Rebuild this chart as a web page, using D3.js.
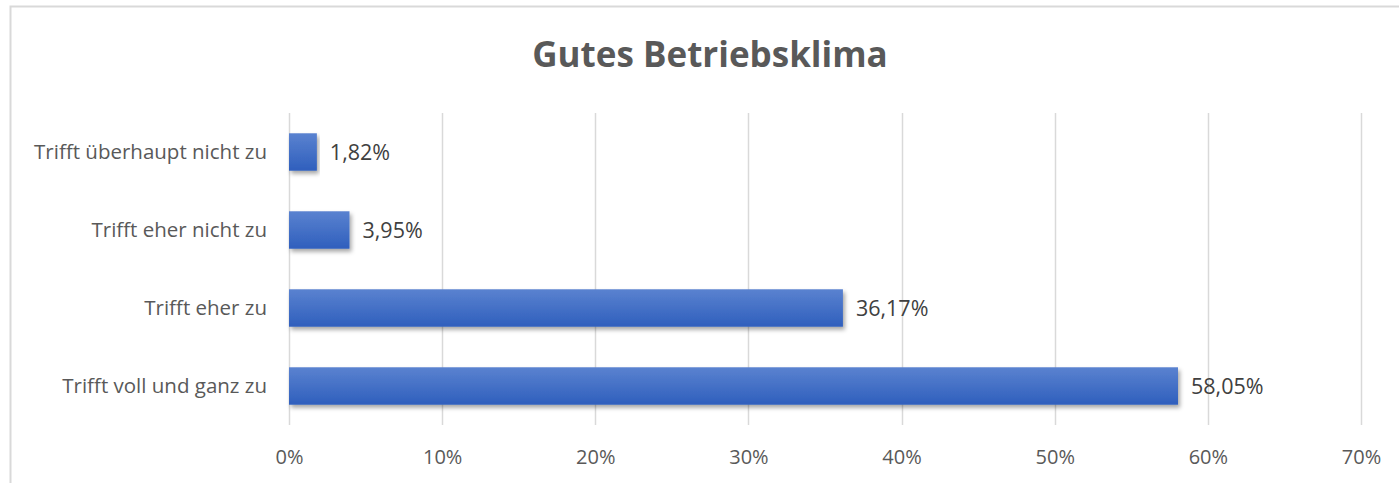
<!DOCTYPE html>
<html><head><meta charset="utf-8">
<script src="https://cdn.jsdelivr.net/npm/d3@7"></script>
<style>
html,body{margin:0;padding:0;background:#fff;}
svg{display:block;}
</style></head><body>
<svg id="c" width="1399" height="483"></svg>
<script>
const categories = ["Trifft überhaupt nicht zu", "Trifft eher nicht zu", "Trifft eher zu", "Trifft voll und ganz zu"];
const values = [1.82, 3.95, 36.17, 58.05];
const valueLabels = ["1,82%", "3,95%", "36,17%", "58,05%"];
const ticks = [0, 10, 20, 30, 40, 50, 60, 70];
const tickLabels = ["0%", "10%", "20%", "30%", "40%", "50%", "60%", "70%"];
const title = "Gutes Betriebsklima";

const svg = d3.select("#c");
const font = "'Open Sans', 'Noto Sans', sans-serif";

// chart frame
svg.append("path").attr("d", "M10.5,483 L10.5,6.5 L1399,6.5")
  .attr("fill", "none").attr("stroke", "#d9d9d9").attr("stroke-width", 2);

const m = {left: 289, right: 1361, top: 113, bottom: 425};
const x = d3.scaleLinear().domain([0, 70]).range([m.left, m.right]);
const y = d3.scaleBand().domain(categories).range([m.top, m.bottom]).paddingInner(0.52).paddingOuter(0.26);

const defs = svg.append("defs");
const grad = defs.append("linearGradient").attr("id", "g").attr("x1", 0).attr("y1", 0).attr("x2", 0).attr("y2", 1);
grad.append("stop").attr("offset", "0%").attr("stop-color", "#5a82d0");
grad.append("stop").attr("offset", "100%").attr("stop-color", "#2f5fbd");
const f = defs.append("filter").attr("id", "sh").attr("x", "-5%").attr("y", "-30%").attr("width", "115%").attr("height", "170%");
f.append("feDropShadow").attr("dx", 2).attr("dy", 3).attr("stdDeviation", 2).attr("flood-color", "#000").attr("flood-opacity", 0.35);

// gridlines
svg.append("g").selectAll("line").data(ticks).join("line")
  .attr("x1", d => Math.round(x(d)) + 0.5).attr("x2", d => Math.round(x(d)) + 0.5)
  .attr("y1", m.top).attr("y2", m.bottom)
  .attr("stroke", "#d9d9d9").attr("stroke-width", 1.5);

// x axis
const xAxis = d3.axisBottom(x).tickValues(ticks).tickFormat((d, i) => tickLabels[i]).tickSize(0).tickPadding(0);
const gx = svg.append("g").attr("transform", `translate(0,${m.bottom})`).call(xAxis);
gx.select(".domain").remove();
gx.selectAll("text").attr("dy", null).attr("y", 39).attr("fill", "#595959")
  .style("font-family", font).style("font-size", "20px");

// y axis
const yAxis = d3.axisLeft(y).tickSize(0).tickPadding(0);
const gy = svg.append("g").attr("transform", `translate(${m.left},0)`).call(yAxis);
gy.select(".domain").remove();
gy.selectAll("text").attr("x", -22).attr("dy", "0.35em").attr("fill", "#595959")
  .style("font-family", font).style("font-size", "20.5px");

// bars
svg.append("g").selectAll("rect").data(values).join("rect")
  .attr("x", x(0)).attr("y", (d, i) => y(categories[i]))
  .attr("width", d => x(d) - x(0)).attr("height", y.bandwidth())
  .attr("fill", "url(#g)").attr("filter", "url(#sh)");

// value labels
svg.append("g").selectAll("text").data(values).join("text")
  .attr("x", d => x(d) + 13).attr("y", (d, i) => y(categories[i]) + y.bandwidth() / 2)
  .attr("dy", "0.35em").attr("fill", "#404040")
  .style("font-family", font).style("font-size", "21.5px")
  .text((d, i) => valueLabels[i]);

// title
svg.append("text").attr("x", 710).attr("y", 55).attr("dy", "0.35em").attr("text-anchor", "middle")
  .attr("fill", "#595959").style("font-family", font).style("font-size", "35px").style("font-weight", "bold")
  .text(title);
</script>
</body></html>
